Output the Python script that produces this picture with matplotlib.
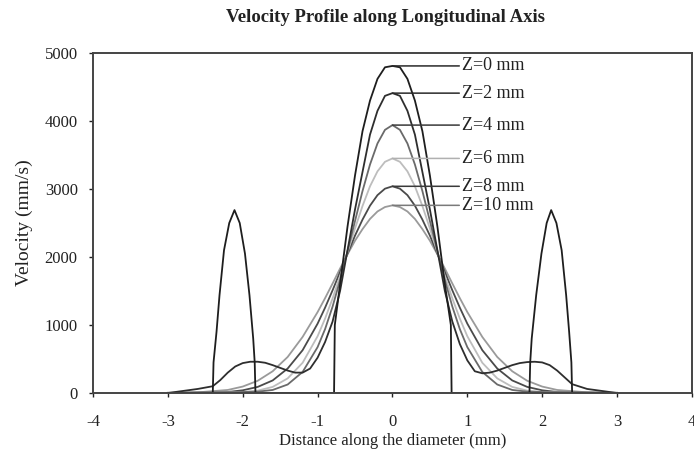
import matplotlib
matplotlib.use("Agg")
import matplotlib.pyplot as plt

# ---- data ----
x_z0 = [-3.0, -2.40, -2.39, -2.35, -2.31, -2.25, -2.18, -2.11, -2.04, -1.97, -1.91, -1.86, -1.84, -1.83,
        -0.78, -0.77, -0.7, -0.6, -0.5, -0.4, -0.3, -0.2, -0.1, 0.0,
        0.1, 0.2, 0.3, 0.4, 0.5, 0.6, 0.7, 0.78, 0.79,
        1.83, 1.84, 1.86, 1.92, 1.99, 2.06, 2.12, 2.19, 2.26, 2.32, 2.36, 2.39, 2.40, 3.0]
v_z0 = [0, 0, 450, 900, 1440, 2100, 2500, 2690, 2500, 2050, 1440, 800, 450, 0,
        0, 1000, 1600, 2450, 3200, 3850, 4300, 4620, 4790, 4810,
        4790, 4620, 4300, 3850, 3200, 2450, 1600, 1000, 0,
        0, 450, 800, 1440, 2050, 2500, 2690, 2500, 2100, 1440, 900, 450, 0, 0]

x_z2 = [-3.0, -2.8, -2.6, -2.4, -2.3, -2.2, -2.1, -2.0, -1.9, -1.8, -1.7, -1.6,
        -1.5, -1.4, -1.3, -1.2, -1.1, -1.0, -0.9, -0.8, -0.7, -0.6, -0.5, -0.4,
        -0.3, -0.2, -0.1, 0.0, 0.1, 0.2, 0.3, 0.4, 0.5, 0.6, 0.7, 0.8, 0.9, 1.0,
        1.1, 1.2, 1.3, 1.4, 1.5, 1.6, 1.7, 1.8, 1.9, 2.0, 2.1, 2.2, 2.3, 2.4,
        2.6, 2.8, 3.0]
v_z2 = [0, 30, 60, 100, 190, 300, 390, 440, 460, 460, 445, 410,
        370, 330, 300, 300, 360, 520, 750, 1050, 1500, 2100, 2700, 3250,
        3800, 4150, 4370, 4410, 4370, 4150, 3800, 3250, 2700, 2100, 1500, 1050, 720, 480,
        320, 290, 300, 330, 370, 410, 440, 455, 460, 450, 410, 330, 230, 130,
        60, 30, 0]

x_bell = [-3.0, -2.6, -2.2, -2.0, -1.8, -1.6, -1.4, -1.2, -1.0, -0.9, -0.8, -0.7,
          -0.6, -0.5, -0.4, -0.3, -0.2, -0.1, 0.0, 0.1, 0.2, 0.3, 0.4, 0.5,
          0.6, 0.7, 0.8, 0.9, 1.0, 1.2, 1.4, 1.6, 1.8, 2.0, 2.2, 2.6, 3.0]
v_z4 = [0, 5, 10, 15, 20, 45, 125, 310, 675, 940, 1270, 1660,
        2090, 2530, 2970, 3360, 3670, 3870, 3940, 3870, 3670, 3360, 2970, 2530,
        2090, 1660, 1270, 940, 675, 310, 125, 45, 20, 15, 10, 5, 0]
v_z6 = [0, 5, 10, 15, 35, 90, 215, 445, 835, 1095, 1390, 1720,
        2070, 2420, 2750, 3040, 3260, 3400, 3450, 3400, 3260, 3040, 2750, 2420,
        2070, 1720, 1390, 1095, 835, 445, 215, 90, 35, 15, 10, 5, 0]
v_z8 = [0, 8, 15, 40, 90, 185, 360, 630, 1020, 1255, 1510, 1780,
        2050, 2315, 2550, 2755, 2910, 3005, 3040, 3005, 2910, 2755, 2550, 2315,
        2050, 1780, 1510, 1255, 1020, 630, 360, 185, 90, 40, 15, 8, 0]
v_z10 = [5, 10, 45, 95, 180, 320, 530, 825, 1190, 1395, 1610, 1830,
         2040, 2240, 2410, 2560, 2670, 2735, 2760, 2735, 2670, 2560, 2410, 2240,
         2040, 1830, 1610, 1395, 1190, 825, 530, 320, 180, 95, 45, 10, 5]

labels = ["Z=0 mm", "Z=2 mm", "Z=4 mm", "Z=6 mm", "Z=8 mm", "Z=10 mm"]
x_ticks = [-4, -3, -2, -1, 0, 1, 2, 3, 4]
y_ticks = [0, 1000, 2000, 3000, 4000, 5000]

series = [(x_z0, v_z0), (x_z2, v_z2), (x_bell, v_z4),
          (x_bell, v_z6), (x_bell, v_z8), (x_bell, v_z10)]
colors = ["#1e1e1e", "#2e2e2e", "#6a6a6a", "#bdbdbd", "#4a4a4a", "#9a9a9a"]
lead_colors = ["#2a2a2a", "#2a2a2a", "#3a3a3a", "#b0b0b0", "#3a3a3a", "#7a7a7a"]

plt.rcParams['font.family'] = ['Liberation Serif', 'DejaVu Serif']
plt.rcParams['axes.unicode_minus'] = False

fig = plt.figure(figsize=(6.94, 4.57), dpi=100)
ax = fig.add_axes([0.134, 0.140, 0.863, 0.744])

order = [3, 5, 2, 4, 1, 0]
for i in order:
    xs, vs = series[i]
    ax.plot(xs, vs, color=colors[i], lw=1.3, zorder=2 + (5 - i) * 0.1)

for i, (xs, vs) in enumerate(series):
    peak = max(vs)
    ax.annotate(labels[i], xy=(0.0, peak), xytext=(0.93, peak),
                textcoords='data', va='center', ha='left', fontsize=13,
                color='#222222',
                arrowprops=dict(arrowstyle='-', color=lead_colors[i], lw=1.1,
                                shrinkA=0, shrinkB=0))

ax.set_xlim(-4, 4)
ax.set_ylim(0, 5000)
ax.set_xticks(x_ticks)
ax.set_yticks(y_ticks)
ax.set_xticklabels([str(t) for t in x_ticks])
ax.tick_params(axis='both', labelsize=12, colors='#222222', length=3, width=1)
ax.tick_params(axis='x', pad=12)
ax.tick_params(axis='y', pad=8)
for s in ax.spines.values():
    s.set_color('#444444')
    s.set_linewidth(1.4)

ax.set_xlabel("Distance along the diameter (mm)", fontsize=12, color='#222222', labelpad=2)
ax.set_ylabel("Velocity (mm/s)", fontsize=14, color='#222222', labelpad=8)
fig.text(0.555, 0.962, "Velocity Profile along Longitudinal Axis", ha='center', va='center',
         fontsize=13.5, fontweight='bold', color='#222222')

fig.savefig("out.png", dpi=100, facecolor='white')
